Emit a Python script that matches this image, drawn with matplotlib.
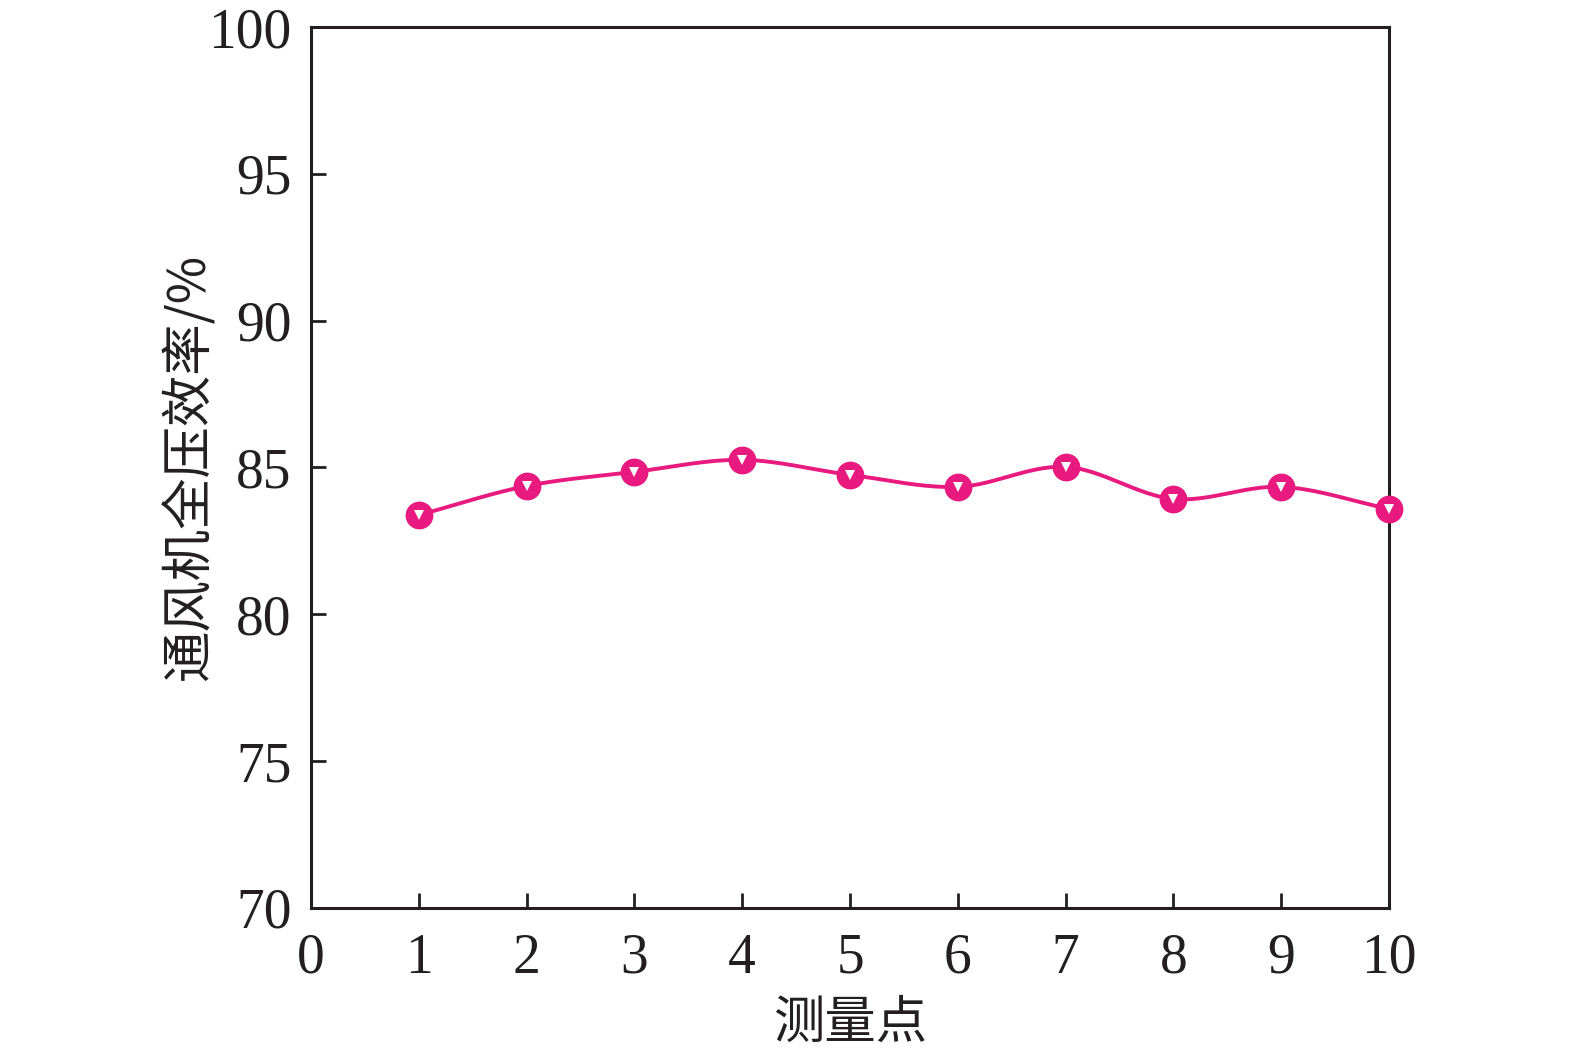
import matplotlib
matplotlib.use("Agg")
import matplotlib.pyplot as plt
import numpy as np

puntos = [1, 2, 3, 4, 5, 6, 7, 8, 9, 10]
eficiencia = [83.38, 84.37, 84.85, 85.26, 84.75, 84.34, 85.02, 83.93, 84.34, 83.59]
ticks_x = list(range(0, 11))
ticks_y = [70, 75, 80, 85, 90, 95, 100]

color_linea = "#e8197f"
color_texto = "#231f20"


def curva_suave(x, y, pasos=30):
    # Catmull-Rom, parecido al suavizado de Excel
    x = np.asarray(x, dtype=float)
    y = np.asarray(y, dtype=float)
    px = np.concatenate([[2 * x[0] - x[1]], x, [2 * x[-1] - x[-2]]])
    py = np.concatenate([[2 * y[0] - y[1]], y, [2 * y[-1] - y[-2]]])
    xs, ys = [], []
    t = np.linspace(0, 1, pasos)
    for i in range(1, len(px) - 2):
        for p, salida in ((px, xs), (py, ys)):
            p0, p1, p2, p3 = p[i - 1], p[i], p[i + 1], p[i + 2]
            v = 0.5 * ((2 * p1) + (-p0 + p2) * t + (2 * p0 - 5 * p1 + 4 * p2 - p3) * t ** 2
                       + (-p0 + 3 * p1 - 3 * p2 + p3) * t ** 3)
            salida.extend(v)
    return np.array(xs), np.array(ys)


plt.rcParams["font.family"] = ["Liberation Serif", "Noto Sans CJK SC"]

fig = plt.figure(figsize=(15.75, 10.51), dpi=100)
ax = fig.add_axes([0.1975, 0.1361, 0.6844, 0.8382])

xs, ys = curva_suave(puntos, eficiencia)
ax.plot(xs, ys, color=color_linea, linewidth=2.8, zorder=2)
ax.plot(puntos, eficiencia, linestyle="none", marker="o", markersize=19,
        color=color_linea, zorder=3, clip_on=False)
ax.plot(puntos, eficiencia, linestyle="none", marker="v", markersize=7.5,
        color="white", markeredgewidth=0, zorder=4, clip_on=False)

ax.set_xlim(0, 10)
ax.set_ylim(70, 100)
ax.set_xticks(ticks_x)
ax.set_yticks(ticks_y)
ax.tick_params(direction="in", length=11, width=2, colors=color_texto,
               labelsize=40)
ax.tick_params(axis="x", pad=18)
ax.tick_params(axis="y", pad=14)
for lado in ax.spines.values():
    lado.set_linewidth(2.2)
    lado.set_color(color_texto)

ax.set_xlabel("测量点", fontsize=37, family="Noto Sans CJK SC", color=color_texto, labelpad=8)
ax.set_ylabel("通风机全压效率/%", fontsize=37, family=["Noto Sans CJK SC"], color=color_texto, labelpad=-6)

fig.savefig("out.png", dpi=100)
